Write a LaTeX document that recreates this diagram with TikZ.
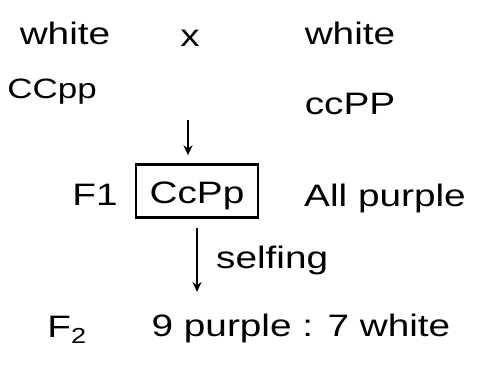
\documentclass[tikz,border=0pt]{standalone}
\usepackage{fontspec}
\setmainfont{Liberation Sans}
\newfontfamily\hand[FakeStretch=1.25]{Liberation Sans}
\usetikzlibrary{arrows.meta}
\begin{document}
\begin{tikzpicture}[x=1pt,y=-1pt,
  lbl/.style={inner sep=0pt,font=\hand\fontsize{31}{34}\selectfont},
  arr/.style={line width=2.4pt,-{Stealth[length=10pt,width=9pt,open]}},
  boxed/.style={draw,line width=2.4pt,inner sep=0pt,minimum width=122pt,minimum height=53pt,text height=26pt,text depth=2pt,font=\hand\fontsize{31}{34}\selectfont}]
\useasboundingbox (0,0) rectangle (477,383);
\node[lbl] (w1) at (65,33) {white};
\node[lbl] (x) at (190,38) {x};
\node[lbl] (w2) at (350,33) {white};
\node[lbl,font=\hand\fontsize{28}{32}\selectfont] (g1) at (52,92) {CCpp};
\node[lbl] (g2) at (350,104) {ccPP};
\coordinate (a1) at (188,120);
\node[boxed] (f1) at (197,191) {CcPp};
\node[lbl] (F1) at (95,195) {F1};
\node[lbl] (all) at (385,198) {All purple};
\node[lbl] (f2r) at (301,328) {9 purple : 7 white};
\node[lbl] (F2) at (67,330) {F\textsubscript{2}};
\draw[arr] (a1) -- ([yshift=8pt]a1 |- f1.north);
\coordinate (a2) at (197,228);
\coordinate (a2e) at (197,292);
\draw[arr] (a2) -- (a2e);
\node[lbl,anchor=west] (self) at (216,260) {selfing};
\end{tikzpicture}
\end{document}
